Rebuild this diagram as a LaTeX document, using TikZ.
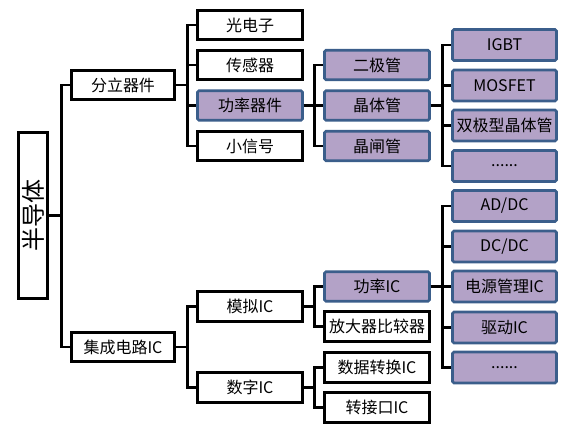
\documentclass[tikz,border=0pt]{standalone}
\usepackage{fontspec}
\setmainfont{Noto Sans CJK SC}
\usepackage{tikz}
\definecolor{boxfill}{RGB}{179,162,199}
\definecolor{boxline}{RGB}{59,94,139}
\tikzset{
  plainbox/.style={draw=black, line width=2.6pt, fill=white, inner sep=0pt,
    minimum width=105pt, minimum height=29.5pt, font=\fontsize{16}{18}\selectfont},
  purplebox/.style={plainbox, draw=boxline, fill=boxfill, rounded corners=1.5pt},
  leafbox/.style={purplebox, minimum width=104pt, minimum height=31pt},
  link/.style={draw=black, line width=2.6pt}
}

\begin{document}
\begin{tikzpicture}[x=1pt, y=-1pt]
  \useasboundingbox (0,0) rectangle (582,435);
  % root
  \node[plainbox, minimum width=29.5pt, minimum height=166pt,
    font=\fontsize{24}{26}\selectfont] (root) at (33,215.5) {\rotatebox{90}{半导体}};
  % first level
  \node[plainbox, minimum width=103.5pt] (fenli) at (123,85) {分立器件};
  \node[plainbox, minimum width=103.5pt] (jicheng) at (123,347) {集成电路IC};
  % second level
  \node[plainbox] (guang) at (250,25) {光电子};
  \node[plainbox] (chuan) at (250,65) {传感器};
  \node[purplebox] (gonglv) at (250,105.5) {功率器件};
  \node[plainbox] (xiao) at (250,146) {小信号};
  \node[plainbox] (moni) at (250,306.5) {模拟IC};
  \node[plainbox] (shuzi) at (250,387.5) {数字IC};
  % third level
  \node[purplebox] (erji) at (377,65) {二极管};
  \node[purplebox] (jingti) at (377,105.5) {晶体管};
  \node[purplebox] (zha) at (377,146) {晶闸管};
  \node[purplebox] (gonglvic) at (377,286.5) {功率IC};
  \node[plainbox] (fangda) at (377,326.5) {放大器比较器};
  \node[plainbox] (shuju) at (377,367.5) {数据转换IC};
  \node[plainbox] (zhuan) at (377,407.5) {转接口IC};
  % fourth level
  \node[leafbox] (igbt) at (504.5,45) {IGBT};
  \node[leafbox] (mos) at (504.5,85.5) {MOSFET};
  \node[leafbox] (shuang) at (504.5,125.5) {双极型晶体管};
  \node[leafbox] (dotsa) at (504.5,166) {......};
  \node[leafbox] (addc) at (504.5,206) {AD/DC};
  \node[leafbox] (dcdc) at (504.5,246.5) {DC/DC};
  \node[leafbox] (dianyuan) at (504.5,286.5) {电源管理IC};
  \node[leafbox] (qudong) at (504.5,327.5) {驱动IC};
  \node[leafbox] (dotsb) at (504.5,367.5) {......};
  % connectors
  \foreach \c in {fenli,jicheng}
    \draw[link] (root.east) -- ++(12.5,0) |- (\c.west);
  \foreach \c in {guang,chuan,gonglv,xiao}
    \draw[link] (fenli.east) -- ++(11.5,0) |- (\c.west);
  \foreach \c in {moni,shuzi}
    \draw[link] (jicheng.east) -- ++(11.5,0) |- (\c.west);
  \foreach \c in {erji,jingti,zha}
    \draw[link] (gonglv.east) -- ++(10.5,0) |- (\c.west);
  \foreach \c in {gonglvic,fangda}
    \draw[link] (moni.east) -- ++(10.5,0) |- (\c.west);
  \foreach \c in {shuju,zhuan}
    \draw[link] (shuzi.east) -- ++(10.5,0) |- (\c.west);
  \foreach \c in {igbt,mos,shuang,dotsa}
    \draw[link] (jingti.east) -- ++(11.5,0) |- (\c.west);
  \foreach \c in {addc,dcdc,dianyuan,qudong,dotsb}
    \draw[link] (gonglvic.east) -- ++(11.5,0) |- (\c.west);
\end{tikzpicture}
\end{document}
